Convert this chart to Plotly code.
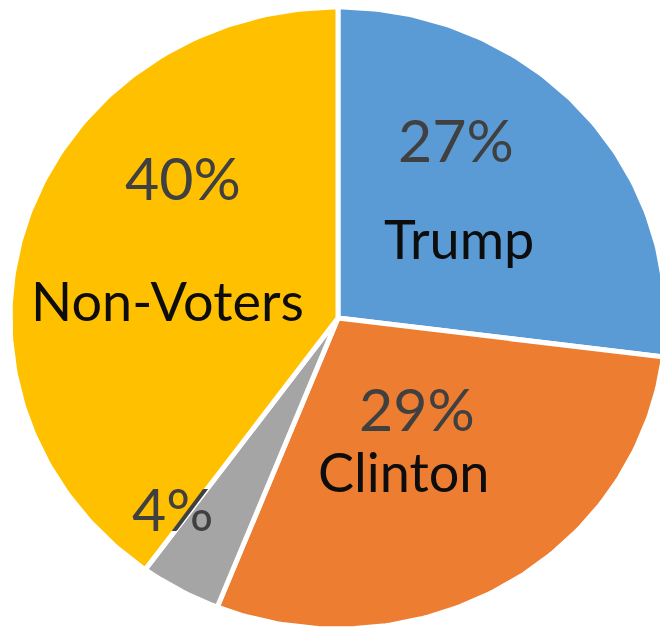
import numpy as np
import plotly.graph_objects as go

# Data
categories = ["Trump", "Clinton", "Other", "Non-Voters"]
values = [27, 29, 4, 40]
colors = ["#5B9BD5", "#ED7D31", "#A5A5A5", "#FFC000"]
pct_labels = ["27%", "29%", "4%", "40%"]
name_labels = ["Trump", "Clinton", "", "Non-Voters"]

W, H = 660, 628
fig = go.Figure()

total = sum(values)
start = 0.0
for cat, val, col in zip(categories, values, colors):
    a0 = start / total * 2 * np.pi
    a1 = (start + val) / total * 2 * np.pi
    t = np.linspace(a0, a1, max(int(val * 4), 8))
    xs = np.concatenate([[0], np.sin(t), [0]])
    ys = np.concatenate([[0], np.cos(t), [0]])
    fig.add_trace(go.Scatter(
        x=xs, y=ys, mode="lines", fill="toself", fillcolor=col,
        line=dict(color="white", width=5), name=cat, hoverinfo="name",
        showlegend=False,
    ))
    start += val

# pixel geometry of the (slightly elliptical) pie, in figure pixels
cx, cy, rx, ry = 338, 318, 328, 311
fig.update_xaxes(range=[-cx / rx, (W - cx) / rx], visible=False, fixedrange=True)
fig.update_yaxes(range=[-(H - cy) / ry, cy / ry], visible=False, fixedrange=True)

font_family = "Lato, Open Sans, sans-serif"
pct_pos = {"27%": (456, 140), "29%": (417, 408), "4%": (173, 508), "40%": (183, 177)}
name_pos = {"Trump": (459, 238), "Clinton": (404, 471), "Non-Voters": (168, 300)}

for p in pct_labels:
    px, py = pct_pos[p]
    fig.add_annotation(x=px / W, y=1 - py / H, xref="paper", yref="paper",
                       text=p, showarrow=False, xanchor="center", yanchor="middle",
                       font=dict(family=font_family, size=59, color="#404040"))
for n in name_labels:
    if not n:
        continue
    px, py = name_pos[n]
    fig.add_annotation(x=px / W, y=1 - py / H, xref="paper", yref="paper",
                       text=n, showarrow=False, xanchor="center", yanchor="middle",
                       font=dict(family=font_family, size=54, color="#0d0d0d"))

fig.update_layout(width=W, height=H, margin=dict(l=0, r=0, t=0, b=0),
                  paper_bgcolor="white", plot_bgcolor="white")
fig.write_html(
    "out.html",
    config={"displayModeBar": False},
    post_script="document.body.style.margin='0';document.body.style.overflow='hidden';",
)
